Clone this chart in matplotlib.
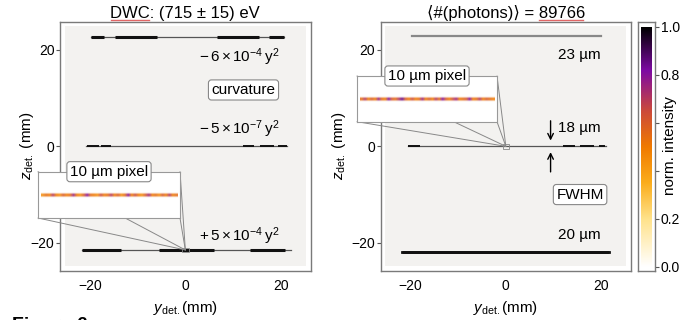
import matplotlib
matplotlib.use("Agg")
import matplotlib.pyplot as plt
from matplotlib.colors import LinearSegmentedColormap
from matplotlib.patches import Rectangle, ConnectionPatch
from matplotlib.lines import Line2D
import numpy as np

plt.rcParams['font.family'] = ['Liberation Sans', 'DejaVu Sans']
plt.rcParams['mathtext.fontset'] = 'custom'
plt.rcParams['mathtext.rm'] = 'Liberation Sans'
plt.rcParams['mathtext.it'] = 'Liberation Sans:italic'
plt.rcParams['font.size'] = 10

# ---- data (mm) ----
# left panel: detector lines (z position, thin extent, thick segments)
left_z = [22.6, 0.0, -21.5]
left_extent = [[-19.9, 20.6], [-20.8, 21.4], [-21.6, 22.1]]
left_thick = [
    [[-19.9, -17.0], [-14.7, -5.9], [6.7, 15.4], [17.5, 20.6]],
    [[-20.7, -18.2], [-17.6, -15.6], [12.0, 14.5], [15.6, 18.5], [19.5, 21.3]],
    [[-21.6, -13.4], [-5.6, 6.0], [13.5, 21.0]],
]
left_labels = [r'$-\,6\times10^{-4}\,\mathrm{y}^{2}$',
               r'$-\,5\times10^{-7}\,\mathrm{y}^{2}$',
               r'$+\,5\times10^{-4}\,\mathrm{y}^{2}$']
left_label_z = [18.6, 3.6, -18.7]

# right panel
right_z = [22.8, 0.0, -21.9]
right_extent = [[-19.8, 20.0], [-20.6, 21.0], [-21.9, 21.6]]
right_thick = [[], [[-20.5, -18.0], [12.0, 14.5], [15.6, 18.5], [19.5, 20.9]], [[-21.9, 21.6]]]
right_labels = ['23 µm', '18 µm', '20 µm']
right_label_z = [19.0, 3.8, -18.4]

# inset pixel intensities (10 µm pixel zoom)
inset_left_row = [0.45, 0.55, 0.5, 0.7, 0.5, 0.45, 0.6, 0.5, 0.55, 0.75, 0.5, 0.45,
                  0.6, 0.8, 0.55, 0.5, 0.45, 0.65, 0.5, 0.55, 0.7, 0.5, 0.6, 0.45,
                  0.55, 0.8, 0.5, 0.65, 0.5, 0.45, 0.6, 0.75, 0.5, 0.55, 0.45, 0.6,
                  0.5, 0.7, 0.5, 0.55]
inset_right_row = [0.55, 0.7, 0.5, 0.6, 0.5, 0.75, 0.55, 0.5, 0.8, 0.6, 0.55, 0.7,
                   0.85, 0.6, 0.5, 0.65, 0.5, 0.55, 0.75, 0.5, 0.6, 0.5, 0.7, 0.55,
                   0.8, 0.6, 0.5, 0.65, 0.75, 0.5, 0.55, 0.6, 0.8, 0.5, 0.55, 0.7,
                   0.5, 0.6, 0.55, 0.5]

cbar_ticks = [0.0, 0.2, 0.4, 0.6, 0.8, 1.0]

cmap = LinearSegmentedColormap.from_list(
    'heat', [(0.0, '#ffffff'), (0.2, '#ffe28a'), (0.35, '#fbad1c'), (0.5, '#f07a00'),
             (0.65, '#cc4a3a'), (0.82, '#7d0aa3'), (1.0, '#000000')])

fig = plt.figure(figsize=(6.95, 3.2), dpi=100)
W, H = 695.0, 320.0


def px_axes(x0, y0, x1, y1, **kw):
    return fig.add_axes([x0 / W, 1 - y1 / H, (x1 - x0) / W, (y1 - y0) / H], **kw)


ax1 = px_axes(60, 22, 310.7, 270.7)
ax2 = px_axes(380.7, 22, 631, 270.7)

for ax in (ax1, ax2):
    ax.set_xlim(-26.3, 26.3)
    ax.set_ylim(-25.8, 25.8)
    ax.add_patch(Rectangle((-25.3, -24.9), 50.6, 49.8, facecolor='#f3f2f0',
                           edgecolor='none', zorder=0))
    ax.set_xticks([-20, 0, 20])
    ax.set_yticks([-20, 0, 20])
    ax.tick_params(axis='x', length=0, pad=6, labelsize=10)
    ax.tick_params(axis='y', length=3, width=0.8, color='#555555', labelsize=10, pad=1)
    for s in ax.spines.values():
        s.set_color('#7a7a7a')
        s.set_linewidth(1.0)
    ax.set_xlabel(r'$y_{\mathrm{det.}}$(mm)', fontsize=11, labelpad=4)

# y labels placed directly so they sit where the reference has them
for xc in (26.5, 339):
    fig.text(xc / W, 1 - 146 / H, r'$z_{\mathrm{det.}}$ (mm)', rotation=90,
             ha='center', va='center', fontsize=11, zorder=10)

# left panel lines
for z, ext, thick in zip(left_z, left_extent, left_thick):
    ax1.plot(ext, [z, z], color='#555555', lw=0.9, zorder=2)
    for a, b in thick:
        ax1.plot([a, b], [z, z], color='#111111', lw=2.2 if z != 0 else 1.4,
                 solid_capstyle='butt', zorder=3)
for lab, z in zip(left_labels, left_label_z):
    ax1.text(19.8, z, lab, ha='right', va='center', fontsize=11)
ax1.text(12.2, 11.7, 'curvature', ha='center', va='center', fontsize=11,
         bbox=dict(boxstyle='round,pad=0.2', fc='white', ec='#888888', lw=0.8))
ax1.set_title('DWC: (715 ± 15) eV', fontsize=12, pad=3)

# right panel lines
for i, (z, ext, thick) in enumerate(zip(right_z, right_extent, right_thick)):
    col = ['#888888', '#555555', '#111111'][i]
    ax2.plot(ext, [z, z], color=col, lw=[1.6, 0.9, 2.0][i], zorder=2)
    for a, b in thick:
        ax2.plot([a, b], [z, z], color='#111111', lw=1.4 if i == 1 else 2.0,
                 solid_capstyle='butt', zorder=3)
for lab, z in zip(right_labels, right_label_z):
    ax2.text(20.0, z, lab, ha='right', va='center', fontsize=11)
ax2.text(15.6, -10.0, 'FWHM', ha='center', va='center', fontsize=11,
         bbox=dict(boxstyle='round,pad=0.2', fc='white', ec='#888888', lw=0.8))
ax2.annotate('', xy=(9.4, 1.2), xytext=(9.4, 5.3),
             arrowprops=dict(arrowstyle='->', lw=1.0, color='k', shrinkA=0, shrinkB=0))
ax2.annotate('', xy=(9.4, -1.2), xytext=(9.4, -5.3),
             arrowprops=dict(arrowstyle='->', lw=1.0, color='k', shrinkA=0, shrinkB=0))
ax2.set_title('⟨#(photons)⟩ = 89766', fontsize=12, pad=3)

# spell-check style underlines seen in the screenshot
fig.add_artist(Line2D([111 / W, 149 / W], [1 - 19.5 / H] * 2, color='#e06666', lw=1))
fig.add_artist(Line2D([539 / W, 583 / W], [1 - 19.5 / H] * 2, color='#e06666', lw=1))

# insets
insets = [
    (ax1, (0.0, -21.5), (38, 171.7, 180, 218), inset_left_row),
    (ax2, (0.0, 0.0), (357, 76, 497, 121.7), inset_right_row),
]
for host, target, (x0, y0, x1, y1), row in insets:
    host.add_patch(Rectangle((target[0] - 0.7, target[1] - 0.5), 1.4, 1.0,
                             fc='none', ec='#888888', lw=0.6, zorder=4))
    ins = px_axes(x0, y0, x1, y1, zorder=5)
    img = np.array([[0.0] * len(row), row, [0.0] * len(row)])
    ins.imshow(img, cmap=cmap, vmin=0, vmax=1, aspect='auto',
               interpolation='bilinear', extent=[0.02, 0.98, 0.42, 0.58])
    ins.set_xlim(0, 1)
    ins.set_ylim(0, 1)
    ins.set_xticks([])
    ins.set_yticks([])
    for s in ins.spines.values():
        s.set_color('#999999')
        s.set_linewidth(0.8)
    for cx, cy in [(0, 0), (0, 1), (1, 0), (1, 1)]:
        con = ConnectionPatch(xyA=(cx, cy), coordsA=ins.transAxes,
                              xyB=target, coordsB=host.transData,
                              color='#888888', lw=0.7, zorder=2)
        fig.add_artist(con)
    fig.text((x0 + x1) / 2 / W, 1 - y0 / H, '10 µm pixel', ha='center',
             va='center', fontsize=11, zorder=6,
             bbox=dict(boxstyle='round,pad=0.2', fc='white', ec='#888888', lw=0.8))

# colorbar
cax = px_axes(638.3, 22, 655, 270.7)
grad = np.linspace(0, 1, 256).reshape(-1, 1)
cax.imshow(grad, cmap=cmap, aspect='auto', origin='lower', extent=[0.18, 0.82, 0, 1])
cax.set_xlim(0, 1)
cax.set_ylim(-0.0167, 1.0196)
cax.set_xticks([])
cax.yaxis.tick_right()
cax.set_yticks(cbar_ticks)
cax.set_yticklabels(['%.1f' % t if t not in (0.4, 0.6) else '' for t in cbar_ticks])
cax.tick_params(axis='y', length=3, width=0.8, color='#555555', labelsize=10, pad=1)
for s in cax.spines.values():
    s.set_color('#7a7a7a')
    s.set_linewidth(1.0)
fig.text(670 / W, 1 - 146 / H, 'norm. intensity', rotation=90, ha='center',
         va='center', fontsize=11)

# caption cut off at the bottom of the screenshot
fig.text(12 / W, 3 / H, 'Figure 6', fontsize=14, fontweight='bold', va='top', ha='left')

fig.savefig('out.png', dpi=100)
